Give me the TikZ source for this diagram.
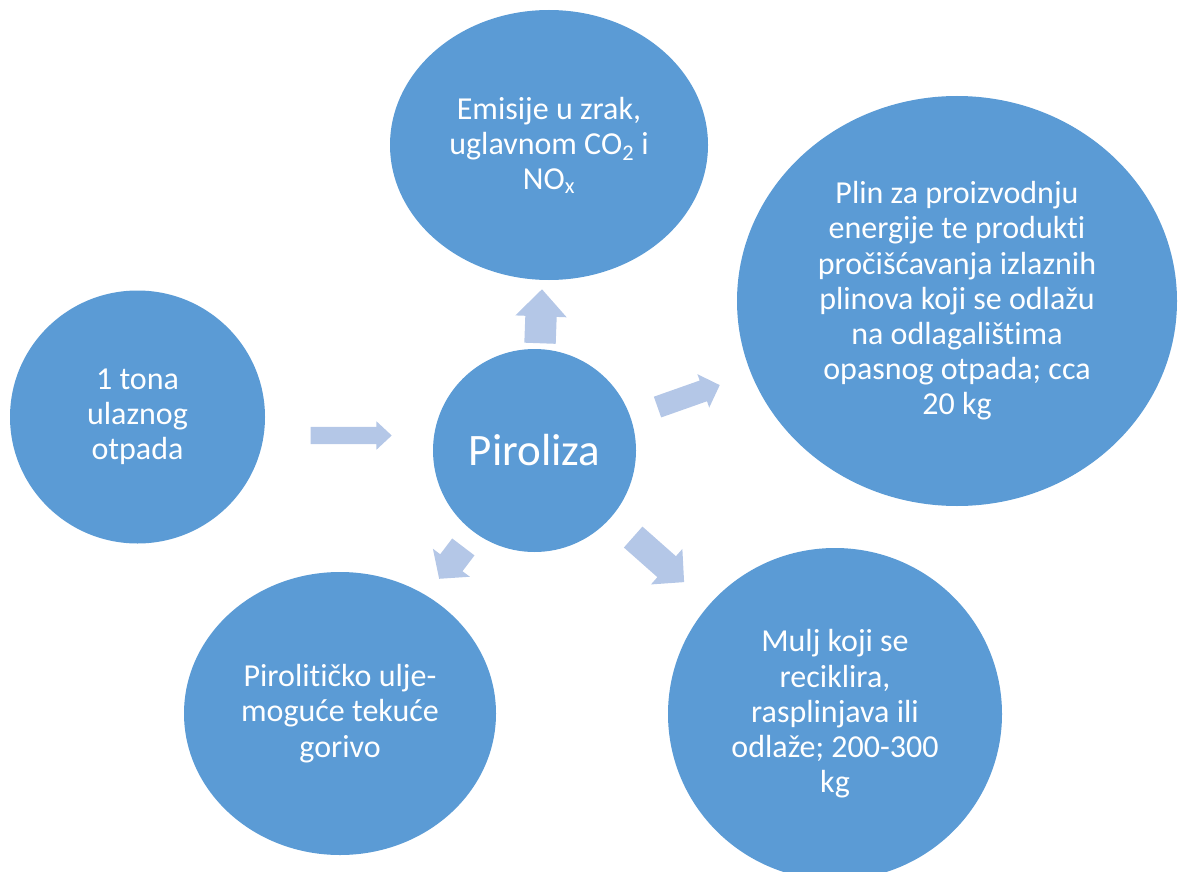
\documentclass[tikz,border=0pt]{standalone}
\usepackage{fontspec}
\setmainfont{Carlito}[Ligatures=NoCommon]
\usetikzlibrary{shapes.geometric,shapes.arrows}
\definecolor{circ}{HTML}{5B9BD5}
\definecolor{arr}{HTML}{B4C7E7}
\begin{document}
\begin{tikzpicture}[x=1pt,y=-1pt,
  bubble/.style={ellipse, fill=circ, draw=none, inner sep=0pt, text=white,
    align=center, font=\fontsize{32}{35.2}\selectfont},
  blockarrow/.style={single arrow, fill=arr, draw=none, inner xsep=0pt,
    single arrow tip angle=90, anchor=tip}]
\useasboundingbox (0,0) rectangle (1180,872);
\clip (0,0) rectangle (1180,872);

\node[bubble, minimum width=255pt, minimum height=253pt] (input) at (137.5,417)
  {1 tona\\ulaznog\\otpada};
\node[bubble, minimum width=318pt, minimum height=270pt] (emis) at (549,145)
  {Emisije u zrak,\\uglavnom CO\textsubscript{2} i\\NO\textsubscript{x}};
\node[bubble, minimum width=440pt, minimum height=410pt] (plin) at (957,301)
  {Plin za proizvodnju\\energije te produkti\\pročišćavanja izlaznih\\plinova koji se odlažu\\na odlagalištima\\opasnog otpada; cca\\20 kg};
\node[bubble, minimum width=312pt, minimum height=283pt] (ulje) at (340,713.5)
  {Pirolitičko ulje-\\moguće tekuće\\gorivo};
\node[bubble, minimum width=334pt, minimum height=332pt] (mulj) at (835,714)
  {Mulj koji se\\reciklira,\\rasplinjava ili\\odlaže; 200-300\\kg};
\node[bubble, circle, minimum size=203pt, font=\fontsize{45}{54}\selectfont] (piro) at (534.5,450.5)
  {Piroliza};

\node[blockarrow, inner ysep=8.5pt, minimum height=81pt, minimum width=28pt,
  single arrow head extend=5.5pt, single arrow tip angle=86] (a1) at (392,435.5) {};
\node[blockarrow, rotate=87.9, inner ysep=15.5pt, minimum height=54pt, minimum width=51pt,
  single arrow head extend=10pt, single arrow tip angle=87] (a2) at (542,289) {};
\node[blockarrow, rotate=19.45, inner ysep=10.8pt, minimum height=66pt, minimum width=35pt,
  single arrow head extend=6.7pt, single arrow tip angle=91] (a3) at (720,385) {};
\node[blockarrow, rotate=-41.5, inner ysep=13.8pt, minimum height=68pt, minimum width=47pt,
  single arrow head extend=9.7pt, single arrow tip angle=91] (a4) at (684.3,582.3) {};
\node[blockarrow, rotate=-127.2, inner ysep=13.8pt, minimum height=40pt, minimum width=46pt,
  single arrow head extend=9.2pt, single arrow tip angle=98] (a5) at (439,579) {};
\end{tikzpicture}
\end{document}
